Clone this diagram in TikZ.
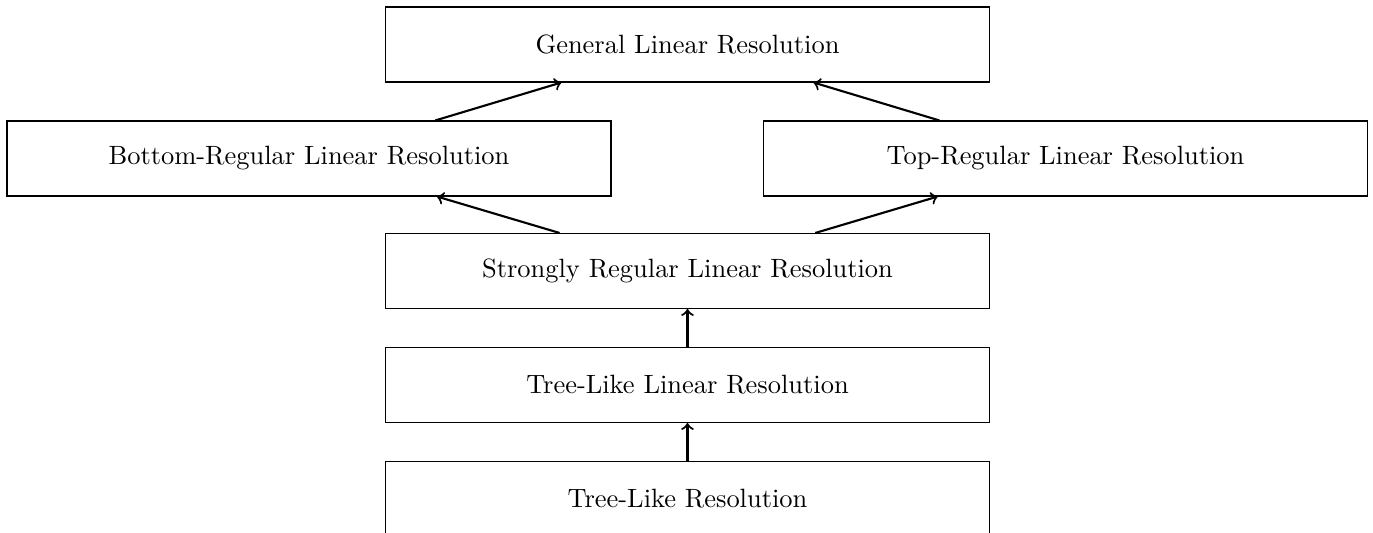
\documentclass[tikz,border=0pt]{standalone}
\usetikzlibrary{arrows}
\begin{document}
\begin{tikzpicture}[x=0.378pt,y=0.378pt,
  box/.style={draw, line width=0.4pt, rectangle, minimum width=228.3pt, minimum height=28.35pt, inner sep=0pt, font=\fontsize{10}{12}\selectfont},
  arr/.style={->, thick}]
\useasboundingbox (0,0) rectangle (1373,-533);
\clip (0,0) rectangle (1373,-533);
\node[box] (G) at (687.5,-44.5) {General Linear Resolution};
\node[box] (B) at (309,-158.5) {Bottom-Regular Linear Resolution};
\node[box] (T) at (1065.5,-158.5) {Top-Regular Linear Resolution};
\node[box] (S) at (687.5,-271) {Strongly Regular Linear Resolution};
\node[box] (L) at (687.5,-385) {Tree-Like Linear Resolution};
\node[box] (R) at (687.5,-499) {Tree-Like Resolution};
\draw[arr] (B) -- (G);
\draw[arr] (T) -- (G);
\draw[arr] (S) -- (B);
\draw[arr] (S) -- (T);
\draw[arr] (L) -- (S);
\draw[arr] (R) -- (L);
\end{tikzpicture}
\end{document}
